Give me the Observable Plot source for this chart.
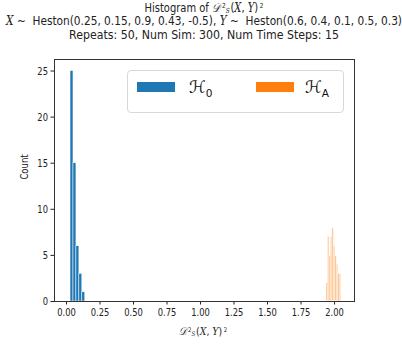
<!DOCTYPE html>
<html><head><meta charset="utf-8">
<script src="https://cdn.jsdelivr.net/npm/d3@7"></script>
<script src="https://cdn.jsdelivr.net/npm/@observablehq/plot@0.6"></script>
<style>
body{margin:0;background:#fff;font-family:"DejaVu Sans",sans-serif;}
#wrap{position:relative;width:402px;height:344px;overflow:hidden;}
.t{position:absolute;left:204px;font-size:12px;line-height:14px;color:#222;white-space:nowrap;}
.m{font-family:"DejaVu Serif",serif;font-style:italic;}
.up{font-size:0.58em;line-height:0;vertical-align:0.55em;margin-left:2px;}
.dn{font-size:0.58em;line-height:0;vertical-align:-0.2em;margin-right:1px;}
#legend{position:absolute;left:127px;top:70px;width:217px;height:43px;border:1px solid #d8d8d8;border-radius:4px;background:rgba(255,255,255,0.8);box-sizing:border-box;}
.patch{position:absolute;top:11px;width:38px;height:10px;}
.lab{position:absolute;top:6px;font-size:17px;line-height:20px;font-family:"DejaVu Sans",sans-serif;color:#111;}
.lab sub{font-size:0.62em;line-height:0;}
#ylab{position:absolute;left:24px;top:167px;transform:translate(-50%,-50%) rotate(-90deg) scale(0.85,1);font-size:10px;color:#222;}
#xlab{position:absolute;left:203px;top:332px;transform:translate(-50%,-50%) scale(0.85,1);font-size:11px;line-height:12px;color:#222;white-space:nowrap;}
</style></head>
<body><div id="wrap">
<div id="plot"></div>
<div class="t" id="t1" style="top:1px">Histogram of <span class="m">𝒟</span><span class="up">2</span><span class="dn m">S</span>(<span class="m">X</span>, <span class="m">Y</span>)<span class="up">2</span></div>
<div class="t" id="t2" style="top:14px"><span class="m">X</span> ~ &nbsp;Heston(0.25, 0.15, 0.9, 0.43, -0.5), <span class="m">Y</span> ~ &nbsp;Heston(0.6, 0.4, 0.1, 0.5, 0.3)</div>
<div class="t" id="t3" style="top:28px">Repeats: 50, Num Sim: 300, Num Time Steps: 15</div>
<div id="legend">
  <div class="patch" style="left:9px;background:#1f77b4"></div>
  <div class="lab" style="left:61px">ℋ<sub>0</sub></div>
  <div class="patch" style="left:128px;background:#ff7f0e"></div>
  <div class="lab" style="left:177px">ℋ<sub>A</sub></div>
</div>
<div id="ylab">Count</div>
<div id="xlab"><span class="m">𝒟</span><span class="up">2</span><span class="dn m">S</span>(<span class="m">X</span>, <span class="m">Y</span>)<span class="up">2</span></div>
</div>
<script>
const h0Edges = [0.030, 0.052, 0.074, 0.096, 0.118, 0.140];
const h0Counts = [25, 15, 6, 3, 1];
const hAEdges = [1.940, 1.951, 1.962, 1.973, 1.984, 1.995, 2.006, 2.017, 2.028, 2.039, 2.050];
const hACounts = [2, 7, 5, 7, 8, 6, 5, 4, 3, 3];
const xTicks = [0, 0.25, 0.5, 0.75, 1.0, 1.25, 1.5, 1.75, 2.0];
const yTicks = [0, 5, 10, 15, 20, 25];

const h0 = h0Counts.map((c, i) => ({x1: h0Edges[i], x2: h0Edges[i + 1], y: c}));
const hA = hACounts.map((c, i) => ({x1: hAEdges[i], x2: hAEdges[i + 1], y: c}));

const chart = Plot.plot({
  width: 402, height: 344,
  marginTop: 59, marginBottom: 43, marginLeft: 54, marginRight: 48,
  style: {fontFamily: "DejaVu Sans, sans-serif", fontSize: "11px", color: "#222", background: "white"},
  x: {domain: [-0.0896, 2.149], ticks: xTicks, tickFormat: d3.format(".2f"), label: null, tickSize: 3.5, tickPadding: 3},
  y: {domain: [0, 26.25], ticks: yTicks, label: null, tickSize: 3.5, tickPadding: 3},
  marks: [
    Plot.rectY(h0, {x1: "x1", x2: "x2", y: "y", fill: "#1f77b4", stroke: "white", strokeWidth: 0.5}),
    Plot.rectY(hA, {x1: "x1", x2: "x2", y: "y", fill: "#ff7f0e", fillOpacity: 0.45, stroke: "white", strokeWidth: 0.4}),
    Plot.frame({stroke: "#333", strokeWidth: 1})
  ]
});
document.getElementById("plot").appendChild(chart);
chart.querySelectorAll("g[aria-label$='tick label'] text").forEach(t => {
  const tr = t.getAttribute("transform") || "";
  t.setAttribute("transform", tr + " scale(0.76,1)");
});
[["t1", 119], ["t2", 396], ["t3", 270]].forEach(([id, w]) => {
  const el = document.getElementById(id);
  const s = w / el.getBoundingClientRect().width;
  el.style.transform = `translateX(-50%) scale(${s},1)`;
});
</script>
</body></html>
